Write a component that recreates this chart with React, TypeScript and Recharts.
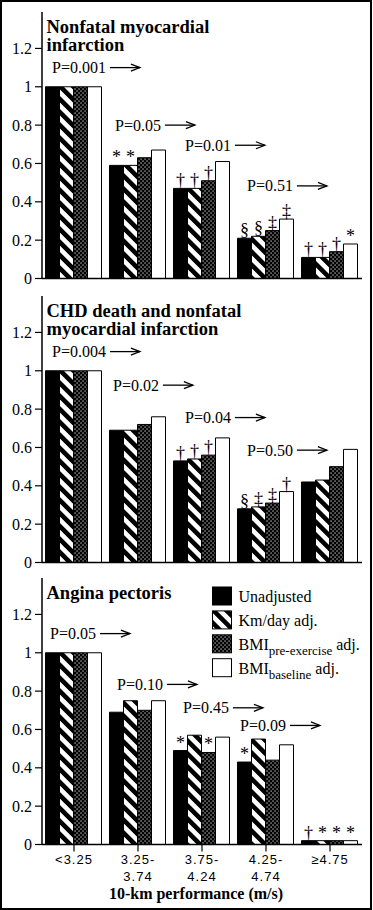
import React from 'react';
import { BarChart, Bar, XAxis, YAxis, LabelList, ReferenceDot } from 'recharts';

const serif = '"Liberation Serif", "Times New Roman", serif';
const sans = '"Liberation Sans", Arial, sans-serif';

// categories and axis labels
const categories = ['<3.25', '3.25-3.74', '3.75-4.24', '4.25-4.74', '≥4.75'];
const tickLines = [['<3.25'], ['3.25-', '3.74'], ['3.75-', '4.24'], ['4.25-', '4.74'], ['≥4.75']];
const yTicks = [0, 0.2, 0.4, 0.6, 0.8, 1, 1.2];

// Nonfatal myocardial infarction
const miUnadj = [1, 0.59, 0.47, 0.21, 0.11];
const miKm = [1, 0.59, 0.47, 0.22, 0.11];
const miPre = [1, 0.63, 0.51, 0.25, 0.14];
const miBase = [1, 0.67, 0.61, 0.31, 0.18];
const miMarks = [
  ['', '*', '†', '§', '†'],
  ['', '*', '†', '§', '†'],
  ['', '', '†', '‡', '†'],
  ['', '', '', '‡', '*'],
];
const miP = ['P=0.001', 'P=0.05', 'P=0.01', 'P=0.51'];
const miPLevel = [1.1, 0.8, 0.695, 0.483];

// CHD death and nonfatal myocardial infarction
const chdUnadj = [1, 0.69, 0.53, 0.28, 0.42];
const chdKm = [1, 0.69, 0.54, 0.29, 0.43];
const chdPre = [1, 0.72, 0.56, 0.31, 0.5];
const chdBase = [1, 0.76, 0.65, 0.37, 0.59];
const chdMarks = [
  ['', '', '†', '§', ''],
  ['', '', '†', '‡', ''],
  ['', '', '†', '‡', ''],
  ['', '', '', '†', ''],
];
const chdP = ['P=0.004', 'P=0.02', 'P=0.04', 'P=0.50'];
const chdPLevel = [1.1, 0.925, 0.756, 0.586];

// Angina pectoris
const apUnadj = [1, 0.69, 0.49, 0.43, 0.02];
const apKm = [1, 0.75, 0.57, 0.55, 0.02];
const apPre = [1, 0.7, 0.48, 0.44, 0.02];
const apBase = [1, 0.75, 0.56, 0.52, 0.02];
const apMarks = [
  ['', '', '*', '*', '†'],
  ['', '', '', '', '*'],
  ['', '', '*', '', '*'],
  ['', '', '', '', '*'],
];
const apP = ['P=0.05', 'P=0.10', 'P=0.45', 'P=0.09'];
const apPLevel = [1.1, 0.835, 0.713, 0.621];

const legendItems = [
  { main: 'Unadjusted', sub: '', tail: '' },
  { main: 'Km/day adj.', sub: '', tail: '' },
  { main: 'BMI', sub: 'pre-exercise', tail: '\u00a0adj.' },
  { main: 'BMI', sub: 'baseline', tail: '\u00a0adj.' },
];

// rough glyph widths for 16px Times, used to put the arrow after the P text
const textWidth = (s: string) =>
  s.split('').reduce((w, c) => w + (c === 'P' ? 8.9 : c === '=' ? 9 : c === '.' ? 4 : 8), 0);

const PLabel = ({ cx, cy, text, dx }: any) => {
  const x0 = cx + dx;
  const ax = x0 + textWidth(text) + 4;
  return (
    <g>
      <text x={x0} y={cy} dy="0.35em" fontSize={16} fontFamily={serif} fill="#000">
        {text}
      </text>
      <line x1={ax} y1={cy} x2={ax + 30} y2={cy} stroke="#000" strokeWidth={1.3} />
      <polyline
        points={`${ax + 21},${cy - 3.5} ${ax + 30},${cy} ${ax + 21},${cy + 3.5}`}
        fill="none"
        stroke="#000"
        strokeWidth={1.3}
      />
    </g>
  );
};

const CatTick = (props: any) => {
  const { x, y, payload } = props;
  const lines = tickLines[payload.index] || [];
  return (
    <text x={x} y={y} textAnchor="middle" fontFamily={sans} fontSize={13} fill="#000" letterSpacing={1}>
      {lines.map((l, i) => (
        <tspan key={i} x={x} dy={i === 0 ? 10 : 17}>
          {l}
        </tspan>
      ))}
    </text>
  );
};

interface PanelProps {
  id: string;
  top: number;
  title: string[];
  series: number[][];
  marks: string[][];
  pTexts: string[];
  pLevels: number[];
  pOffsets: number[];
  bottomAxis?: boolean;
}

const seriesKeys = ['unadj', 'km', 'pre', 'base'];

const Panel: React.FC<PanelProps> = ({ id, top, title, series, marks, pTexts, pLevels, pOffsets, bottomAxis }) => {
  const data = categories.map((cat, i) => {
    const row: any = { cat };
    seriesKeys.forEach((k, s) => {
      row[k] = series[s][i];
      row[k + 'Mark'] = marks[s][i];
    });
    return row;
  });
  const fills = ['#000', `url(#stripe-${id})`, `url(#dots-${id})`, '#fff'];
  const xHeight = bottomAxis ? 62 : 10;
  const height = 2 + 266.5 + xHeight;
  const frame = { stroke: '#000', strokeWidth: 1.5 };

  return (
    <div style={{ position: 'absolute', left: 0, top: top - 2 }}>
      <BarChart
        width={373}
        height={height}
        data={data}
        margin={{ top: 2, right: 11, bottom: 0, left: 0 }}
        barCategoryGap={3.5}
        barGap={0}
      >
        <defs>
          <pattern
            id={`stripe-${id}`}
            patternUnits="userSpaceOnUse"
            width={9.2}
            height={9.2}
            patternTransform="rotate(-45)"
          >
            <rect x={0} y={0} width={9.2} height={9.2} fill="#000" />
            <rect x={0} y={0} width={4.6} height={9.2} fill="#fff" />
          </pattern>
          <pattern id={`dots-${id}`} patternUnits="userSpaceOnUse" width={4} height={4}>
            <rect x={0} y={0} width={4} height={4} fill="#000" />
            <rect x={0.5} y={0.5} width={1.1} height={1.1} fill="#fff" />
            <rect x={2.5} y={2.5} width={1.1} height={1.1} fill="#fff" />
          </pattern>
        </defs>
        <XAxis
          dataKey="cat"
          interval={0}
          tickSize={7}
          height={xHeight}
          axisLine={frame}
          tickLine={{ stroke: '#000', strokeWidth: 1.2 }}
          tick={bottomAxis ? <CatTick /> : false}
        />
        <XAxis xAxisId="top" dataKey="cat" orientation="top" height={0} tick={false} tickLine={false} axisLine={frame} />
        <YAxis
          type="number"
          domain={[0, 1.39]}
          ticks={yTicks}
          width={42}
          tickSize={7}
          tickMargin={3}
          axisLine={frame}
          tickLine={{ stroke: '#000', strokeWidth: 1.2 }}
          tick={{ fill: '#000', fontSize: 16, fontFamily: serif }}
        />
        <YAxis
          yAxisId="right"
          orientation="right"
          type="number"
          domain={[0, 1.39]}
          width={0}
          tick={false}
          tickLine={false}
          axisLine={frame}
        />
        {seriesKeys.map((k, s) => (
          <Bar key={k} dataKey={k} fill={fills[s]} stroke="#000" strokeWidth={1} isAnimationActive={false}>
            <LabelList
              dataKey={k + 'Mark'}
              position="top"
              offset={2}
              fill="#000"
              fontSize={18}
              fontFamily={serif}
            />
          </Bar>
        ))}
        {pTexts.map((t, i) => (
          <ReferenceDot
            key={t + i}
            x={categories[i]}
            y={pLevels[i]}
            r={1}
            ifOverflow="visible"
            shape={(p: any) => <PLabel cx={p.cx} cy={p.cy} text={t} dx={pOffsets[i]} />}
          />
        ))}
        <text fontFamily={serif} fontSize={18.5} fontWeight="bold" fill="#000">
          {title.map((line, i) => (
            <tspan key={i} x={46.5} y={22.5 + i * 18.5}>
              {line}
            </tspan>
          ))}
        </text>
        {bottomAxis && (
          <text x={196} y={322.5} textAnchor="middle" fontFamily={serif} fontSize={16} fontWeight="bold" fill="#000">
            10-km performance (m/s)
          </text>
        )}
        {bottomAxis &&
          legendItems.map((item, i) => {
            const y = 11 + i * 23.9;
            return (
              <g key={i}>
                <rect x={212.5} y={y} width={19} height={18} fill={fills[i]} stroke="#000" strokeWidth={1} />
                <text x={238.5} y={y + 15} fontFamily={serif} fontSize={16} fill="#000">
                  {item.main}
                  {item.sub && (
                    <tspan fontSize={13} dy={5}>
                      {item.sub}
                    </tspan>
                  )}
                  {item.sub && <tspan dy={-5}>{item.tail}</tspan>}
                </text>
              </g>
            );
          })}
      </BarChart>
    </div>
  );
};

export default function App() {
  return (
    <div style={{ position: 'absolute', left: 0, top: 0, width: 373, height: 910, background: '#fff' }}>
      <div
        style={{
          position: 'absolute',
          left: 0,
          top: 0,
          width: 372,
          height: 910,
          border: '2px solid #000',
          boxSizing: 'border-box',
        }}
      />
      <Panel
        id="mi"
        top={11.8}
        title={['Nonfatal myocardial', 'infarction']}
        series={[miUnadj, miKm, miPre, miBase]}
        marks={miMarks}
        pTexts={miP}
        pLevels={miPLevel}
        pOffsets={[-22, -23, -17, -19]}
      />
      <Panel
        id="chd"
        top={295.8}
        title={['CHD death and nonfatal', 'myocardial infarction']}
        series={[chdUnadj, chdKm, chdPre, chdBase]}
        marks={chdMarks}
        pTexts={chdP}
        pLevels={chdPLevel}
        pOffsets={[-22, -25, -17, -19]}
      />
      <Panel
        id="ap"
        top={577.5}
        title={['Angina pectoris']}
        series={[apUnadj, apKm, apPre, apBase]}
        marks={apMarks}
        pTexts={apP}
        pLevels={apPLevel}
        pOffsets={[-24, -21, -19, -26]}
        bottomAxis
      />
    </div>
  );
}
